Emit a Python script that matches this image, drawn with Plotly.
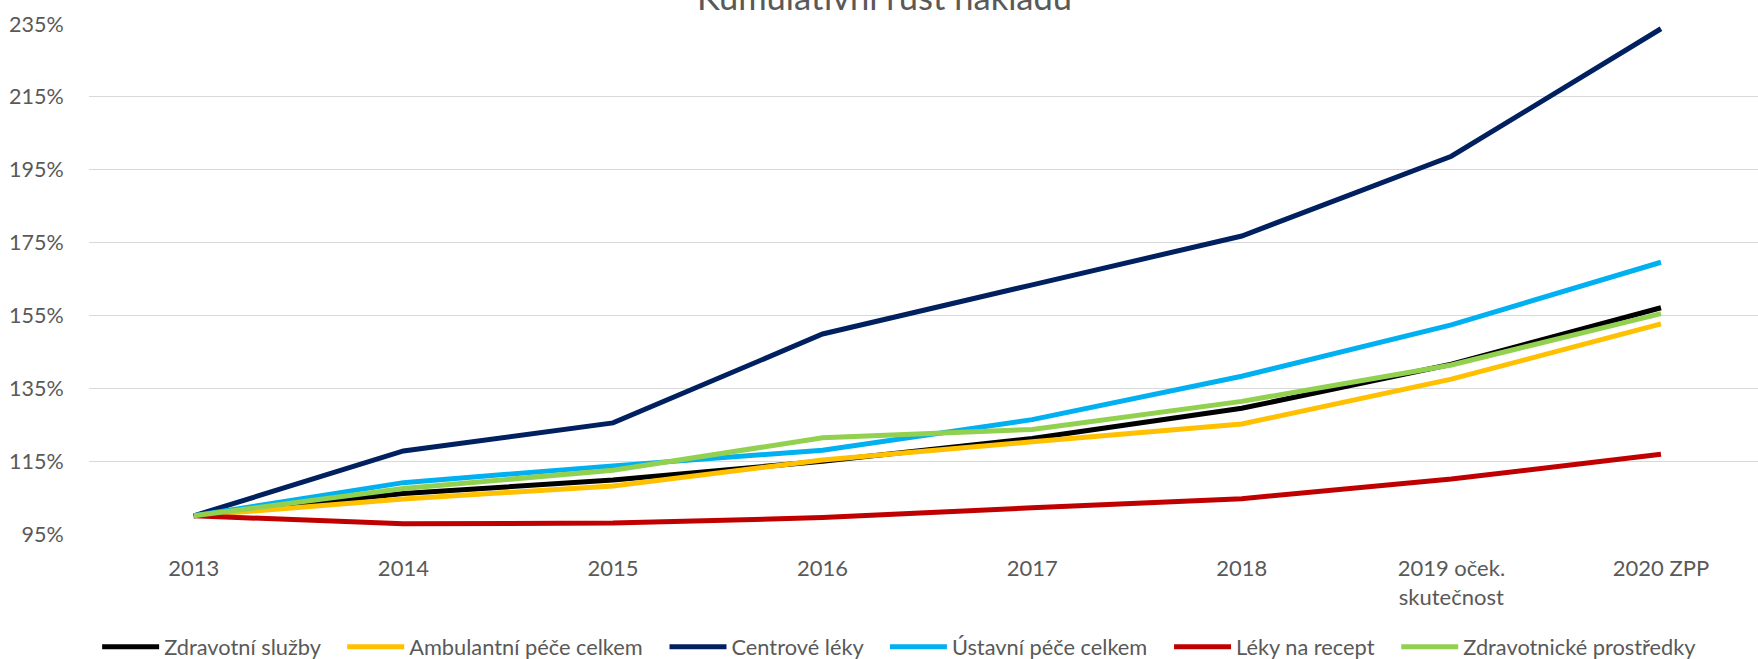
import plotly.graph_objects as go

categories = ["2013", "2014", "2015", "2016", "2017", "2018", "2019 oček.<br>skutečnost", "2020 ZPP"]

zdravotni_sluzby = [100, 106.1, 109.8, 115.0, 121.2, 129.5, 141.6, 157.1]
ambulantni_pece = [100, 104.6, 108.2, 115.3, 120.3, 125.2, 137.5, 152.7]
centrove_leky = [100, 117.8, 125.5, 149.9, 163.4, 176.8, 198.7, 233.7]
ustavni_pece = [100, 109.1, 113.7, 118.0, 126.4, 138.3, 152.4, 169.6]
leky_na_recept = [100, 97.8, 98.0, 99.5, 102.2, 104.7, 110.1, 116.9]
zdravotnicke_prostredky = [100, 107.5, 112.5, 121.4, 123.7, 131.4, 141.4, 155.5]

series_names = ["Zdravotní služby", "Ambulantní péče celkem", "Centrové léky",
                "Ústavní péče celkem", "Léky na recept", "Zdravotnické prostředky"]
series_values = [zdravotni_sluzby, ambulantni_pece, centrove_leky,
                 ustavni_pece, leky_na_recept, zdravotnicke_prostredky]
series_colors = ["#000000", "#FFC000", "#002060", "#00B0F0", "#C00000", "#92D050"]

y_ticks = [95, 115, 135, 155, 175, 195, 215, 235]
title_text = "Kumulativní růst nákladů"

FONT = "Lato"
GREY = "#595959"
PAD = "\u00a0\u00a0\u00a0"  # spacing after each legend entry

fig = go.Figure()
x_idx = list(range(len(categories)))
for name, vals, col in zip(series_names, series_values, series_colors):
    fig.add_trace(go.Scatter(
        x=x_idx, y=vals, name=name + PAD, mode="lines",
        line=dict(color=col, width=5),
    ))

fig.update_layout(
    width=1758, height=659,
    margin=dict(l=89, r=0, t=24, b=125),
    paper_bgcolor="white", plot_bgcolor="white",
    font=dict(family=FONT, size=22, color=GREY),
    showlegend=True,
    legend=dict(
        orientation="h", xref="container", yref="container",
        x=0.516, xanchor="center", y=0.018, yanchor="middle",
        font=dict(family=FONT, size=21.8, color=GREY),
        itemwidth=57, tracegroupgap=0,
    ),
    annotations=[dict(
        text=title_text, xref="paper", yref="paper",
        x=(884 - 89) / 1669, y=1.0096, xanchor="center", yanchor="bottom",
        showarrow=False, font=dict(family=FONT, size=34.5, color=GREY),
    )],
)

fig.update_xaxes(
    range=[-0.5, 7.463],
    tickmode="array", tickvals=x_idx, ticktext=categories,
    showgrid=False, zeroline=False, showline=False,
    ticks="outside", ticklen=15, tickcolor="rgba(0,0,0,0)",
    tickfont=dict(family=FONT, size=22, color=GREY),
)
fig.update_yaxes(
    range=[95, 235],
    tickmode="array", tickvals=y_ticks, ticktext=[f"{v}%" for v in y_ticks],
    showgrid=True, gridcolor="#D9D9D9", gridwidth=1.3,
    zeroline=False, showline=False,
    ticks="outside", ticklen=20, tickcolor="rgba(0,0,0,0)",
    tickfont=dict(family=FONT, size=21.5, color=GREY),
)

fig.write_html("out.html", config={"displayModeBar": False},
               post_script="document.body.style.margin='0';")
